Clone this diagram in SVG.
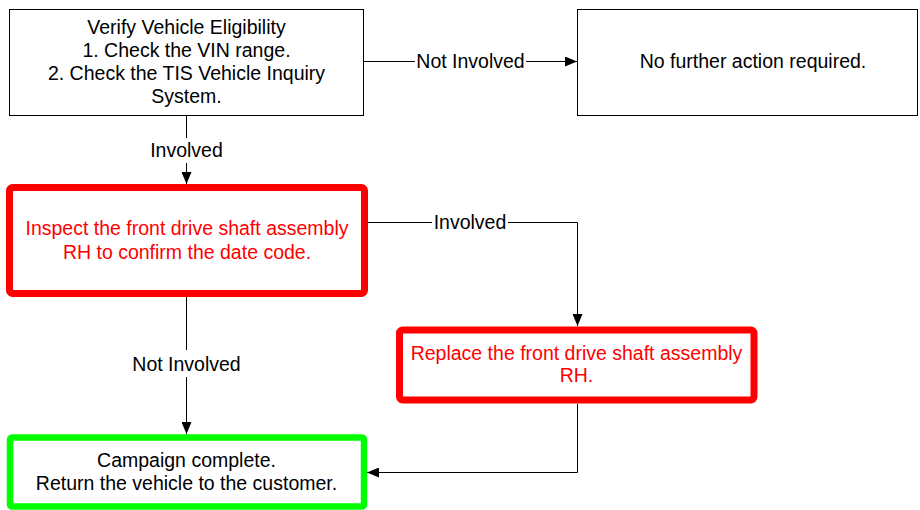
<svg xmlns="http://www.w3.org/2000/svg" width="920" height="510" viewBox="0 0 920 510">
<style>
text{font-family:"Liberation Sans",Arial,sans-serif;font-size:19.5px;text-anchor:middle;fill:#000}
.red text,text.r{fill:#ff0000}
.plain{fill:#fff;stroke:#000;stroke-width:1}
.redbox{fill:#fff;stroke:#ff0000;stroke-width:7}
.greenbox{fill:#fff;stroke:#00ff00;stroke-width:6.5}
.conn{fill:none;stroke:#000;stroke-width:1}
</style>
<defs>
<marker id="arr" markerUnits="userSpaceOnUse" markerWidth="13" markerHeight="10" refX="12" refY="5" orient="auto">
<path d="M0,0 L12,5 L0,10 Z" fill="#000"/>
</marker>
</defs>
<rect width="920" height="510" fill="#fff"/>
<g id="connectors">
<path class="conn" d="M363.5,61.5 H415"/>
<path class="conn" d="M526,61.5 H577" marker-end="url(#arr)"/>
<text x="470.5" y="68">Not Involved</text>
<path class="conn" d="M186.5,115.5 V138"/>
<path class="conn" d="M186.5,163 V184" marker-end="url(#arr)"/>
<text x="186.5" y="157">Involved</text>
<path class="conn" d="M368,222.5 H432"/>
<path class="conn" d="M508,222.5 H577.5 V326" marker-end="url(#arr)"/>
<text x="470" y="229">Involved</text>
<path class="conn" d="M186.5,297 V350"/>
<path class="conn" d="M186.5,377 V434" marker-end="url(#arr)"/>
<text x="186.5" y="370.5">Not Involved</text>
<path class="conn" d="M577.5,404 V472.5 H367" marker-end="url(#arr)"/>
</g>
<g id="verify">
<rect class="plain" x="9.5" y="9.5" width="354" height="106"/>
<text x="186.5" y="34">Verify Vehicle Eligibility</text>
<text x="186.5" y="57">1. Check the VIN range.</text>
<text x="186.5" y="80">2. Check the TIS Vehicle Inquiry</text>
<text x="186.5" y="103">System.</text>
</g>
<g id="no-action">
<rect class="plain" x="577.5" y="9.5" width="340" height="106"/>
<text x="753" y="68">No further action required.</text>
</g>
<g id="inspect" class="red">
<rect class="redbox" x="9.5" y="187.5" width="355" height="106" rx="3"/>
<text x="187" y="235">Inspect the front drive shaft assembly</text>
<text x="187" y="258.5">RH to confirm the date code.</text>
</g>
<g id="replace" class="red">
<rect class="redbox" x="399.5" y="330" width="354.5" height="70" rx="3"/>
<text x="576.5" y="359.5">Replace the front drive shaft assembly</text>
<text x="576.5" y="382">RH.</text>
</g>
<g id="complete">
<rect class="greenbox" x="10" y="437.5" width="354" height="69" rx="2"/>
<text x="186.5" y="467">Campaign complete.</text>
<text x="186.5" y="490">Return the vehicle to the customer.</text>
</g>
</svg>
